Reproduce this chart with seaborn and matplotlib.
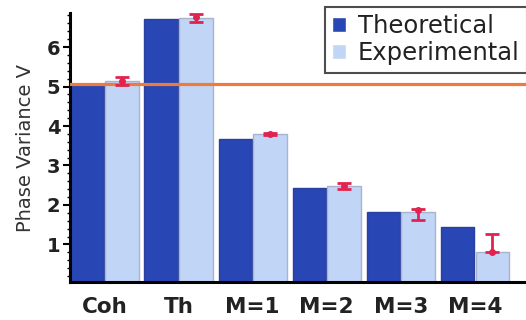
import matplotlib
matplotlib.use("Agg")
import matplotlib.pyplot as plt
from matplotlib.ticker import MultipleLocator
import seaborn as sns
import pandas as pd
import numpy as np

categories = ["Coh", "Th", "M=1", "M=2", "M=3", "M=4"]
theoretical = [5.07, 6.70, 3.67, 2.44, 1.83, 1.45]
experimental = [5.15, 6.73, 3.79, 2.47, 1.83, 0.80]
err_point = [5.15, 6.75, 3.79, 2.47, 1.86, 0.80]
err_low = [5.03, 6.64, 3.76, 2.40, 1.62, 0.80]
err_high = [5.24, 6.85, 3.82, 2.55, 1.90, 1.27]
reference_level = 5.07
series_names = ["Theoretical", "Experimental"]

df = pd.DataFrame({
    "cat": categories * 2,
    "val": theoretical + experimental,
    "series": [series_names[0]] * len(categories) + [series_names[1]] * len(categories),
})

sns.set_theme(style="white")
plt.rcParams["font.family"] = ["DejaVu Sans"]

fig = plt.figure(figsize=(5.26, 3.2), dpi=100)
ax = fig.add_axes([0.133, 0.119, 0.867, 0.84])

sns.barplot(data=df, x="cat", y="val", hue="series", order=categories,
            hue_order=series_names, saturation=1,
            palette=["#2846b4", "#c1d5f7"], width=0.94, gap=0.04,
            ax=ax, legend=True)

edge_cols = ["#2a3f9e", "#a9b4cc"]
for cont, ec in zip(ax.containers, edge_cols):
    for p in cont:
        p.set_edgecolor(ec)
        p.set_linewidth(1.0)

ax.axhline(reference_level, color="#f07a3a", lw=2.3, zorder=5)

xs = [p.get_x() + p.get_width() / 2 for p in ax.containers[1]]
yp = np.array(err_point)
yerr = np.vstack([yp - np.array(err_low), np.array(err_high) - yp])
ax.errorbar(xs, yp, yerr=yerr, fmt="o", color="#e0234f", ms=4,
            elinewidth=2, capsize=5, capthick=2, zorder=6)

ax.set_xlim(-0.466, 5.69)
ax.set_ylim(0.05, 6.86)
ax.set_xlabel("")
ax.set_ylabel("Phase Variance V", fontsize=14, labelpad=8, color="#333333")
ax.set_yticks([1, 2, 3, 4, 5, 6])
ax.yaxis.set_minor_locator(MultipleLocator(0.2))
ax.tick_params(axis="y", which="major", direction="out", length=5, width=1.5,
               left=True, labelsize=14, pad=2, color="black", labelcolor="#222222")
ax.tick_params(axis="y", which="minor", direction="out", length=2.5, width=1,
               left=True, color="black")
for lab in ax.get_yticklabels():
    lab.set_fontweight("bold")
ax.tick_params(axis="x", length=0, labelsize=15.5, pad=11, labelcolor="#222222")
for lab in ax.get_xticklabels():
    lab.set_fontweight("bold")

for side in ["top", "right"]:
    ax.spines[side].set_visible(False)
for side in ["left", "bottom"]:
    ax.spines[side].set_color("black")
    ax.spines[side].set_linewidth(2.2)

leg = ax.legend(loc="upper left", bbox_to_anchor=(325 / 526, 1 - 7 / 320),
                bbox_transform=fig.transFigure, fontsize=17.5, frameon=True,
                fancybox=False, handlelength=0.55, handleheight=0.55,
                handletextpad=0.5, borderpad=0.3, labelspacing=0.12,
                borderaxespad=0)
leg.get_frame().set_edgecolor("#222222")
leg.get_frame().set_linewidth(1.5)
for t in leg.get_texts():
    t.set_color("#222222")
leg.set_zorder(10)

fig.savefig("out.png", dpi=100)
